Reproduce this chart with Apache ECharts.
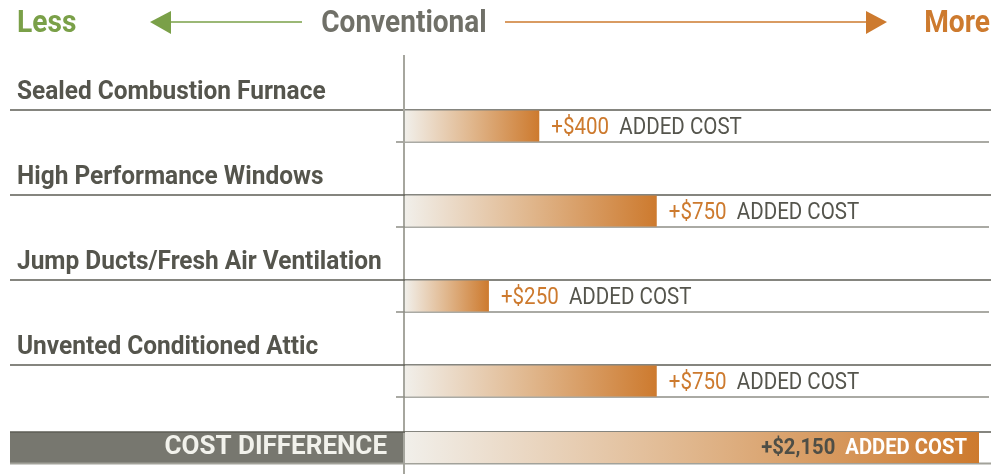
<!DOCTYPE html>
<html>
<head>
<meta charset="utf-8">
<script src="https://cdn.jsdelivr.net/npm/echarts@6/dist/echarts.min.js"></script>
<style>
  html, body { margin: 0; padding: 0; background: #ffffff; }
  #chart { width: 993px; height: 474px; }
</style>
</head>
<body>
<div id="chart"></div>
<script>
// Upgrade items and what each one adds over a conventional build
const categories = [
  'Sealed Combustion Furnace',
  'High Performance Windows',
  'Jump Ducts/Fresh Air Ventilation',
  'Unvented Conditioned Attic'
];
const addedCost = [400, 750, 250, 750];

// Summary row
const totalCategory = ['COST DIFFERENCE'];
const totalCost = [2150];

const FONT = "Roboto, 'DejaVu Sans Condensed', sans-serif";
const ORANGE = '#cd7a2e';
const GREEN = '#7aa048';
const TEXT_GRAY = '#55554d';

function fmtMoney(v) {
  return '+$' + v.toLocaleString('en-US');
}

const barGradient = new echarts.graphic.LinearGradient(0, 0, 1, 0, [
  { offset: 0, color: '#f1efea' },
  { offset: 0.5, color: '#e0b68c' },
  { offset: 1, color: ORANGE }
]);

// rich text of the "+$x  ADDED COST" callouts
function costText(v, valueColor, restColor, size, weight) {
  return {
    text: '{v|' + fmtMoney(v) + '}  {s|ADDED COST}',
    rich: {
      v: { fill: valueColor, fontFamily: FONT, fontSize: size, fontWeight: weight },
      s: { fill: restColor, fontFamily: FONT, fontSize: size, fontWeight: weight }
    },
    fontFamily: FONT, fontSize: size, fontWeight: weight,
    verticalAlign: 'middle'
  };
}

const chart = echarts.init(document.getElementById('chart'), null, { renderer: 'canvas' });

const option = {
  animation: false,
  backgroundColor: '#ffffff',
  grid: [
    { left: 405, right: 14, top: 83.5, height: 340 },
    { left: 405, right: 14, top: 432, height: 31 }
  ],
  xAxis: [
    { gridIndex: 0, type: 'value', min: 0, max: 1710, show: false },
    { gridIndex: 1, type: 'value', min: 0, max: 2150, show: false }
  ],
  yAxis: [
    {
      gridIndex: 0, type: 'category', inverse: true, data: categories,
      axisLine: { show: false }, axisTick: { show: false }, axisLabel: { show: false },
      splitLine: { show: false }
    },
    {
      gridIndex: 1, type: 'category', data: totalCategory,
      axisLine: { show: false }, axisTick: { show: false }, splitLine: { show: false },
      axisLabel: {
        margin: 1,
        width: 377,
        height: 31,
        lineHeight: 31,
        padding: [0, 17, 0, 0],
        align: 'right',
        verticalAlign: 'middle',
        backgroundColor: '#77776f',
        color: '#f2f2ec',
        fontFamily: FONT,
        fontWeight: 'bold',
        fontSize: 26
      }
    }
  ],
  graphic: [
    {
      type: 'text', x: 17, y: 24, scaleX: 0.88,
      style: { text: 'Less', fill: GREEN, font: 'bold 32px ' + FONT, verticalAlign: 'middle' }
    },
    {
      type: 'line', shape: { x1: 168, y1: 22, x2: 302, y2: 22 },
      style: { stroke: GREEN, lineWidth: 1.5 }
    },
    {
      type: 'polygon', shape: { points: [[150, 22], [171, 11], [171, 34]] },
      style: { fill: GREEN }
    },
    {
      type: 'text', x: 404, y: 24, scaleX: 0.875,
      style: { text: 'Conventional', fill: '#707068', font: 'bold 32px ' + FONT, align: 'center', verticalAlign: 'middle' }
    },
    {
      type: 'line', shape: { x1: 505, y1: 22, x2: 868, y2: 22 },
      style: { stroke: ORANGE, lineWidth: 1.5 }
    },
    {
      type: 'polygon', shape: { points: [[887, 22], [866, 11], [866, 34]] },
      style: { fill: ORANGE }
    },
    {
      type: 'text', x: 990, y: 24, scaleX: 0.88,
      style: { text: 'More', fill: ORANGE, font: 'bold 32px ' + FONT, align: 'right', verticalAlign: 'middle' }
    }
  ],
  series: [
    {
      // row rules, headings and the centre divider
      type: 'custom',
      xAxisIndex: 0, yAxisIndex: 0,
      z: 1,
      clip: false,
      silent: true,
      data: categories.map((c, i) => [0, i]),
      renderItem: function (params, api) {
        const idx = api.value(1);
        const p = api.coord([0, idx]);
        const cy = p[1];
        const x0 = p[0];
        const children = [
          { type: 'line', shape: { x1: 10, y1: cy - 16, x2: 991, y2: cy - 16 },
            style: { stroke: '#5d5d55', lineWidth: 1.5 } },
          { type: 'line', shape: { x1: x0 - 9, y1: cy + 16, x2: 989, y2: cy + 16 },
            style: { stroke: '#8e8e86', lineWidth: 1.5 } },
          { type: 'text', x: 17, y: cy - 34, scaleX: 0.94,
            style: { text: categories[idx], fill: TEXT_GRAY, font: 'bold 26px ' + FONT, verticalAlign: 'middle' } }
        ];
        if (idx === 0) {
          children.push({ type: 'line', shape: { x1: x0 - 1, y1: 55, x2: x0 - 1, y2: 474 },
            style: { stroke: '#a6a69e', lineWidth: 2 } });
        }
        return { type: 'group', children: children };
      }
    },
    {
      type: 'bar',
      xAxisIndex: 0, yAxisIndex: 0,
      z: 3,
      data: addedCost,
      barWidth: 31,
      itemStyle: { color: barGradient }
    },
    {
      // "+$x ADDED COST" callouts placed just past each bar's end
      type: 'custom',
      xAxisIndex: 0, yAxisIndex: 0,
      z: 4,
      clip: false,
      silent: true,
      data: addedCost.map((v, i) => [v, i]),
      renderItem: function (params, api) {
        const v = api.value(0);
        const p = api.coord([v, api.value(1)]);
        return {
          type: 'text', x: p[0] + 12, y: p[1] + 2, scaleX: 0.893,
          style: costText(v, ORANGE, TEXT_GRAY, 23, 'normal')
        };
      }
    },
    {
      // rules around the summary row
      type: 'custom',
      xAxisIndex: 1, yAxisIndex: 1,
      z: 1,
      clip: false,
      silent: true,
      data: totalCategory.map((c, i) => [0, i]),
      renderItem: function (params, api) {
        const p = api.coord([0, api.value(1)]);
        const cy = p[1];
        return {
          type: 'group',
          children: [
            { type: 'line', shape: { x1: 10, y1: cy - 15.5, x2: 991, y2: cy - 15.5 },
              style: { stroke: '#5d5d55', lineWidth: 1.5 } },
            { type: 'line', shape: { x1: 10, y1: cy + 16, x2: 991, y2: cy + 16 },
              style: { stroke: '#a2a29a', lineWidth: 2 } }
          ]
        };
      }
    },
    {
      type: 'bar',
      xAxisIndex: 1, yAxisIndex: 1,
      z: 3,
      data: totalCost,
      barWidth: 31,
      itemStyle: { color: barGradient }
    },
    {
      // total callout inside the end of the summary bar
      type: 'custom',
      xAxisIndex: 1, yAxisIndex: 1,
      z: 4,
      clip: false,
      silent: true,
      data: totalCost.map((v, i) => [v, i]),
      renderItem: function (params, api) {
        const v = api.value(0);
        const p = api.coord([v, api.value(1)]);
        const st = costText(v, '#4e4e46', '#ffffff', 22, 'bold');
        st.align = 'right';
        return { type: 'text', x: p[0] - 12, y: p[1] + 1, scaleX: 0.92, style: st };
      }
    }
  ]
};

chart.setOption(option);
</script>
</body>
</html>
